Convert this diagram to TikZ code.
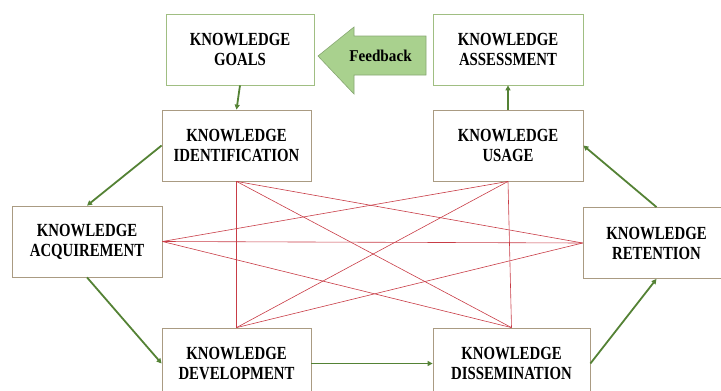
\documentclass[tikz,border=0pt]{standalone}
\usepackage{fontspec}
\setmainfont{Liberation Serif}[FakeStretch=0.8]
\newfontfamily\fbfont{Liberation Serif}[FakeStretch=0.92]
\usepackage{tikz}
\usetikzlibrary{arrows.meta}
\definecolor{boxgray}{RGB}{170,155,130}
\definecolor{boxgreen}{RGB}{160,190,130}
\definecolor{flowgreen}{RGB}{84,130,53}
\definecolor{fbfill}{RGB}{169,209,142}
\definecolor{linkred}{RGB}{200,60,70}

\begin{document}
\begin{tikzpicture}[x=1pt,y=-1pt,>={Triangle[length=5pt,width=5pt]}]
    \tikzstyle{stage}=[draw=boxgray,line width=0.8pt,fill=white,minimum height=71pt,
        inner sep=0pt,align=center,font=\bfseries\fontsize{18.5}{20}\selectfont]
    \tikzstyle{end stage}=[stage,draw=boxgreen]
    \tikzstyle{flow}=[->,draw=flowgreen,line width=1.8pt]
    \tikzstyle{link}=[draw=linkred,line width=0.6pt]

    \useasboundingbox (0,0) rectangle (721,391);

    % Draw the stages
    \node[end stage,minimum width=148pt] (goals) at (240,49.5) {KNOWLEDGE\\GOALS};
    \node[end stage,minimum width=150pt] (assess) at (508,49.5) {KNOWLEDGE\\ASSESSMENT};
    \node[stage,minimum width=149pt] (ident) at (236.5,145.5) {KNOWLEDGE\\IDENTIFICATION};
    \node[stage,minimum width=150pt] (usage) at (508,145.5) {KNOWLEDGE\\USAGE};
    \node[stage,minimum width=150pt] (acq) at (87,241.5) {KNOWLEDGE\\ACQUIREMENT};
    \node[stage,minimum width=147pt] (ret) at (656.5,243) {KNOWLEDGE\\RETENTION};
    \node[stage,minimum width=149pt] (dev) at (236.5,363.5) {KNOWLEDGE\\DEVELOPMENT};
    \node[stage,minimum width=157pt] (diss) at (511.5,363.5) {KNOWLEDGE\\DISSEMINATION};

    % Feedback arrow
    \filldraw[fill=fbfill,draw=fbfill!80!black,line width=0.6pt]
        (318,56) -- (354,27) -- (354,36) -- (426,36) -- (426,75) -- (354,75) -- (354,94) -- cycle;
    \node[font=\fbfont\bfseries\fontsize{16.5}{18}\selectfont] (fb) at (380.5,55.5) {Feedback};

    % Connect every stage with the stages it does not follow
    \foreach \source / \dest in {ident.south/dev.north, ident.south/diss.north,
        ident.south/ret.west, usage.south/acq.east, usage.south/dev.north,
        usage.south/diss.north, acq.east/ret.west, acq.east/diss.north,
        dev.north/ret.west}
        \path[link] (\source) -- (\dest);

    % The cycle of stages
    \foreach \source / \dest in {goals.south/ident.north, ident.west/acq.north,
        acq.south/dev.west, dev.east/diss.west, diss.east/ret.south,
        ret.north/usage.east, usage.north/assess.south}
        \path[flow] (\source) -- (\dest);
\end{tikzpicture}
\end{document}
